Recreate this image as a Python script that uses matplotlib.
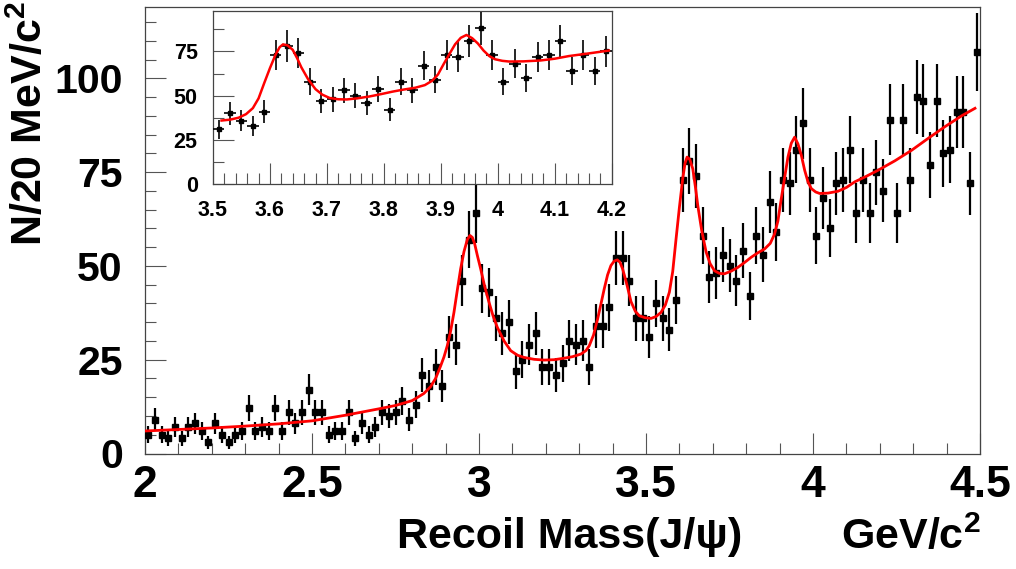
import numpy as np
import matplotlib
matplotlib.use("Agg")
import matplotlib.pyplot as plt
from matplotlib.ticker import MultipleLocator, FixedLocator, FixedFormatter

# ---------------- data ----------------
# events per 20 MeV bin, bins from 2.00 to 4.50 GeV/c^2
counts = [5, 9, 5, 4, 7, 4, 7, 8, 6, 3,
          8, 5, 3, 5, 6, 12, 6, 7, 6, 12,
          6, 11, 8, 11, 17, 11, 11, 5, 6, 6,
          11, 4, 8, 5, 7, 11, 10, 11, 14, 9,
          13, 21, 18, 23, 18, 31, 29, 46, 57, 64,
          44, 43, 36, 32, 35, 22, 25, 29, 32, 23,
          23, 21, 24, 30, 29, 30, 23, 34, 34, 39,
          52, 52, 46, 36, 36, 31, 40, 36, 33, 41,
          73, 78, 74, 58, 47, 48, 53, 50, 46, 54,
          42, 58, 53, 67, 59, 73, 72, 81, 88, 73,
          58, 68, 60, 72, 73, 81, 64, 73, 64, 75,
          70, 89, 64, 89, 73, 95, 94, 77, 94, 80,
          81, 91, 91, 72, 107]
bin_low = 2.0
bin_width = 0.02

# fitted curve
fit_x = [2.00, 2.10, 2.20, 2.30, 2.40, 2.50, 2.60, 2.70, 2.75, 2.80,
         2.815, 2.835, 2.855, 2.87, 2.885, 2.895, 2.905, 2.915, 2.925, 2.935,
         2.945, 2.955, 2.965, 2.973, 2.98, 2.987, 2.995, 3.005, 3.017, 3.03,
         3.042, 3.055, 3.075, 3.095, 3.115, 3.135, 3.165, 3.195, 3.225, 3.255,
         3.28, 3.305, 3.32, 3.33, 3.343, 3.355, 3.365, 3.375, 3.385, 3.395,
         3.405, 3.414, 3.422, 3.43, 3.442, 3.455, 3.468, 3.48, 3.497, 3.515,
         3.53, 3.545, 3.558, 3.57, 3.58, 3.59, 3.60, 3.61, 3.617, 3.623,
         3.631, 3.64, 3.648, 3.655, 3.667, 3.68, 3.692, 3.705, 3.72, 3.735,
         3.755, 3.775, 3.795, 3.815, 3.835, 3.855, 3.872, 3.885, 3.895, 3.905,
         3.915, 3.925, 3.935, 3.945, 3.955, 3.965, 3.975, 3.985, 3.995, 4.008,
         4.02, 4.045, 4.075, 4.10, 4.125, 4.16, 4.195, 4.245, 4.295, 4.345,
         4.395, 4.445, 4.485]
fit_y = [6.0, 6.4, 6.8, 7.3, 7.9, 8.7, 10.2, 11.9, 12.8, 14.1,
         14.9, 16.0, 17.8, 20.0, 23.3, 25.7, 28.7, 32.6, 37.6, 43.5,
         49.2, 53.8, 57.0, 58.1, 57.6, 55.9, 52.8, 49.2, 44.5, 40.3,
         36.7, 33.6, 30.0, 27.4, 26.2, 25.6, 25.1, 24.9, 25.0, 25.4,
         25.8, 26.5, 27.4, 28.7, 31.6, 35.8, 39.8, 43.9, 47.6, 50.1,
         51.3, 51.6, 51.0, 49.2, 45.3, 40.5, 37.9, 36.7, 36.2, 36.0,
         36.5, 37.6, 39.6, 43.0, 48.5, 57.2, 65.6, 73.3, 77.4, 79.0,
         78.4, 75.9, 71.0, 66.1, 59.3, 53.7, 50.6, 48.7, 48.0, 47.9,
         48.6, 49.6, 50.9, 52.3, 53.5, 54.5, 56.0, 58.5, 62.0, 67.9,
         73.5, 79.0, 82.7, 84.3, 82.5, 79.5, 75.5, 72.4, 70.6, 69.7,
         69.3, 69.4, 69.9, 70.9, 72.4, 73.9, 75.5, 78.0, 80.8, 84.0,
         87.1, 90.0, 92.0]

x_tick_labels = ["2", "2.5", "3", "3.5", "4", "4.5"]
y_tick_labels = ["0", "25", "50", "75", "100"]
inset_x_tick_labels = ["3.5", "3.6", "3.7", "3.8", "3.9", "4", "4.1", "4.2"]
inset_y_tick_labels = ["0", "25", "50", "75"]

x_title = "Recoil Mass(J/\u03c8)"
x_unit = r"GeV/c$^{\mathbf{2}}$"
y_title = r"N/20 MeV/c$^{\mathbf{2}}$"

# ---------------- style ----------------
FONTS = ["Liberation Sans", "DejaVu Sans"]
plt.rcParams["font.family"] = FONTS
plt.rcParams["font.weight"] = "bold"
plt.rcParams["mathtext.fontset"] = "custom"
plt.rcParams["mathtext.rm"] = "Liberation Sans:bold"
plt.rcParams["mathtext.bf"] = "Liberation Sans:bold"

counts = np.asarray(counts, dtype=float)
mass = bin_low + bin_width * (np.arange(len(counts)) + 0.5)
errs = np.sqrt(counts)
fit_x = np.asarray(fit_x)
fit_y = np.asarray(fit_y)

W, H = 1016, 569
fig = plt.figure(figsize=(W / 100, H / 100), dpi=100)

# ---------------- main axes ----------------
L, R, B, T = 145, 980, 453.5, 7
ax = fig.add_axes([L / W, 1 - B / H, (R - L) / W, (B - T) / H])
ax.errorbar(mass, counts, yerr=errs, fmt="s", color="black", ms=4.2,
            elinewidth=1.6, capsize=0, zorder=3)
ax.plot(fit_x, fit_y, color="red", lw=2.0, zorder=4)
ax.set_xlim(2.0, 4.5)
ax.set_ylim(0, 119)
ax.xaxis.set_major_locator(FixedLocator([2, 2.5, 3, 3.5, 4, 4.5]))
ax.xaxis.set_major_formatter(FixedFormatter(x_tick_labels))
ax.xaxis.set_minor_locator(MultipleLocator(0.1))
ax.yaxis.set_major_locator(FixedLocator([0, 25, 50, 75, 100]))
ax.yaxis.set_major_formatter(FixedFormatter(y_tick_labels))
ax.yaxis.set_minor_locator(MultipleLocator(5))
ax.tick_params(which="both", direction="in", top=False, right=False,
               color="#555555", width=0.8)
ax.tick_params(which="major", length=15)
ax.tick_params(which="minor", length=8)
ax.tick_params(axis="x", which="major", labelsize=32, pad=8)
ax.tick_params(axis="y", which="major", labelsize=29.5, pad=16)
for s in ax.spines.values():
    s.set_color("#444444")
    s.set_linewidth(0.9)

# ---------------- inset ----------------
iL, iR, iB, iT = 213, 611.7, 184.3, 10.7
axi = fig.add_axes([iL / W, 1 - iB / H, (iR - iL) / W, (iB - iT) / H], zorder=5)
axi.set_facecolor("white")
sel = (mass > 3.5) & (mass < 4.2)
axi.errorbar(mass[sel], counts[sel], xerr=bin_width / 2, yerr=errs[sel], fmt="s",
             color="black", ms=3.2, elinewidth=1.2, capsize=0, zorder=3)
fsel = (fit_x >= 3.505) & (fit_x <= 4.2)
axi.plot(fit_x[fsel], fit_y[fsel], color="red", lw=1.8, zorder=4)
axi.set_xlim(3.5, 4.2)
axi.set_ylim(0, 98)
axi.xaxis.set_major_locator(FixedLocator([3.5, 3.6, 3.7, 3.8, 3.9, 4.0, 4.1, 4.2]))
axi.xaxis.set_major_formatter(FixedFormatter(inset_x_tick_labels))
axi.xaxis.set_minor_locator(MultipleLocator(0.02))
axi.yaxis.set_major_locator(FixedLocator([0, 25, 50, 75]))
axi.yaxis.set_major_formatter(FixedFormatter(inset_y_tick_labels))
axi.yaxis.set_minor_locator(MultipleLocator(12.5))
axi.tick_params(which="both", direction="in", top=False, right=False,
                color="#555555", width=0.8)
axi.tick_params(which="major", length=15)
axi.tick_params(which="minor", length=8)
axi.tick_params(axis="both", which="major", labelsize=15.5, pad=11)
for s in axi.spines.values():
    s.set_color("#444444")
    s.set_linewidth(0.9)

# ---------------- titles ----------------
fig.text(570 / W, 1 - 537 / H, x_title, ha="center", va="center",
         fontsize=31, fontweight="bold")
fig.text(981 / W, 1 - 537 / H, x_unit, ha="right", va="center",
         fontsize=31, fontweight="bold")
fig.text(30.5 / W, 1 - 1 / H, y_title, ha="center", va="top", rotation=90,
         fontsize=31, fontweight="bold")

fig.savefig("out.png", dpi=100)
